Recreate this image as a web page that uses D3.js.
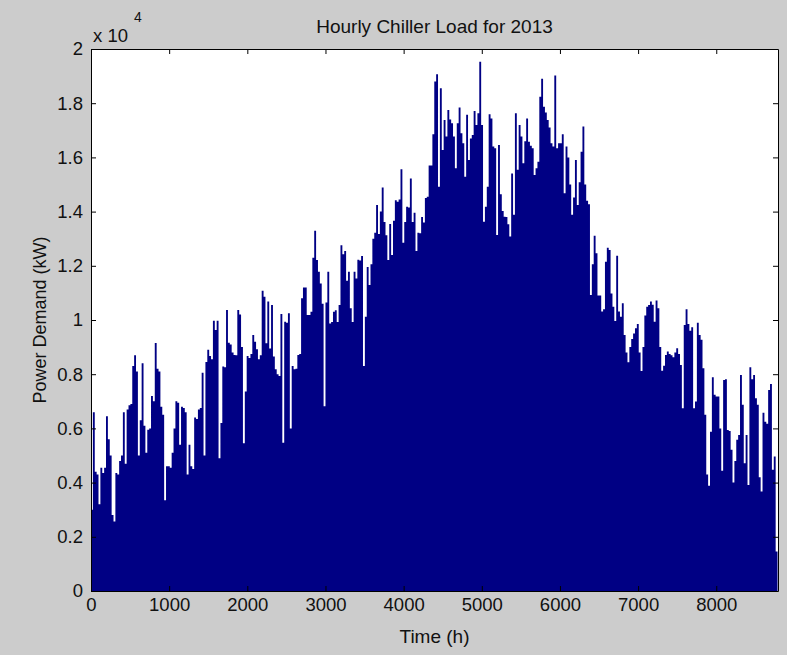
<!DOCTYPE html>
<html>
<script src='https://d3js.org/d3.v7.min.js'></script>
<style>
body {margin: 0; background: #cccccc;}
text {font-family: 'Liberation Sans', Arial, sans-serif;}
</style>
<body>
<script>

// daily peak chiller load (kW), one value per 24 h
var dailyLoad = [
3000,6600,4400,4300,3200,4550,4350,4550,6450,5600,5000,2800,2560,4350,4300,4800,5000,6600,4700,6700,
6850,6900,8300,8700,8100,5000,6300,8400,6100,5100,5950,6000,7200,7000,9150,8200,8100,6800,6500,3350,
4600,4600,4550,5100,6000,7000,6950,5400,6800,6750,6600,4300,5400,4600,4500,6400,6350,6700,6750,8050,
5000,8450,8900,8670,8550,9970,9630,9970,4900,6200,8280,8260,10370,9160,9100,8800,8710,8700,10370,10200,
9000,5450,7360,8670,8600,8750,9450,9200,8920,8550,8700,11080,10860,9140,10680,8950,10550,8650,8180,8000,
7930,10220,5470,9940,9900,10250,6000,8300,8180,8200,8710,8750,10800,11200,11200,10180,10180,10300,12300,13290,
12210,11780,11350,10600,6820,10650,11780,9870,9930,10300,10360,9930,10550,12760,12430,12550,11450,11780,10430,9930,
11780,11530,12220,12200,12360,8300,10120,11960,11290,12060,13000,13220,14240,13170,14000,14890,13620,13130,12210,13540,
12400,13660,14420,14360,14450,15560,12850,13620,14180,14150,15220,13620,13960,12550,13220,13200,13800,13600,14500,14550,
15700,15700,16850,18800,19070,14920,18550,16270,17380,16770,17750,17400,17260,16770,15600,17260,17840,16890,16520,15290,
17570,15900,16700,16830,17710,17200,17630,19530,17200,13630,14180,14920,17590,17440,16400,16340,13140,16460,14640,14020,
13810,13800,13530,13080,15410,13880,17630,15540,17200,16770,15780,16600,17440,16580,16430,16340,15350,15600,15840,18240,
18900,17870,17660,17380,17100,16520,16400,19020,16340,16520,16520,16850,14680,16400,16000,15000,13880,14520,15900,14240,
15080,16210,17140,15000,14400,14270,10920,12060,13110,12460,10900,10900,10310,10400,12150,12670,12580,10980,10490,9960,
12370,10310,10120,10620,9450,8800,8440,9000,9300,9500,9700,9850,8800,8120,9000,10170,10490,10550,10680,10560,
9940,10720,10430,9000,8130,8310,8710,8840,8750,8700,8630,8800,8960,8750,8340,6740,9820,10400,9850,9600,
9730,6740,6990,9900,9450,9270,8220,6500,4300,3880,5880,7890,7240,7180,7180,6000,4440,7790,7810,5940,
5900,5210,4000,4800,5580,5760,7970,6870,4710,5760,3910,8260,7810,7970,7110,6870,4200,3670,6580,6250,
6170,7420,7640,4470,4960,1460
];
var hoursPerBar = 24;
var xTicks = [0,1000,2000,3000,4000,5000,6000,7000,8000];
var yTicks = [0,2000,4000,6000,8000,10000,12000,14000,16000,18000,20000];
var xMax = 8790;
var yMax = 20000;

var svg = d3.select('body')
.append('svg')
.attr('width', 787)
.attr('height', 655);

svg.append('rect')
.attr('width', 787)
.attr('height', 655)
.attr('fill', '#cccccc');

var x = d3.scaleLinear().domain([0, xMax]).range([91, 778]);
var y = d3.scaleLinear().domain([0, yMax]).range([591, 49]);

// white axes background
svg.append('rect')
.attr('x', x(0))
.attr('y', y(yMax))
.attr('width', x(xMax) - x(0))
.attr('height', y(0) - y(yMax))
.attr('fill', 'white');

svg.append('clipPath')
.attr('id', 'plotClip')
.append('rect')
.attr('x', x(0))
.attr('y', y(yMax))
.attr('width', x(xMax) - x(0))
.attr('height', y(0) - y(yMax));

// bars as one stepped shape so neighbouring bars do not leave seams
var steps = dailyLoad.map(function(v, i) { return {h: i * hoursPerBar, v: v}; });
steps.push({h: dailyLoad.length * hoursPerBar, v: dailyLoad[dailyLoad.length - 1]});

var area = d3.area()
.curve(d3.curveStepAfter)
.x(function(d) { return x(d.h); })
.y0(y(0))
.y1(function(d) { return y(d.v); });

svg.append('path')
.datum(steps)
.attr('clip-path', 'url(#plotClip)')
.attr('d', area)
.attr('fill', '#000084');

//axes
var fmt = function(d) { return String(+(d / 10000).toFixed(1)); };

svg.append('g')
.attr('transform', 'translate(' + x(0) + ',0)')
.call(d3.axisLeft(y).tickValues(yTicks).tickFormat(fmt).tickSizeInner(-5).tickSizeOuter(0).tickPadding(8));

svg.append('g')
.attr('transform', 'translate(' + x(xMax) + ',0)')
.call(d3.axisRight(y).tickValues(yTicks).tickFormat('').tickSizeInner(-5).tickSizeOuter(0));

svg.append('g')
.attr('transform', 'translate(0,' + y(yMax) + ')')
.call(d3.axisTop(x).tickValues(xTicks).tickFormat('').tickSizeInner(-5).tickSizeOuter(0));

svg.append('g')
.attr('transform', 'translate(0,' + y(0) + ')')
.call(d3.axisBottom(x).tickValues(xTicks).tickFormat(d3.format('d')).tickSizeInner(-5).tickSizeOuter(0).tickPadding(7));

svg.selectAll('.domain').attr('stroke', 'black');
svg.selectAll('.tick line').attr('stroke', 'black');
svg.selectAll('.tick text')
.style('font-size', '18.5px')
.attr('fill', '#111');

// labels
svg.append('text')
.attr('x', (x(0) + x(xMax)) / 2)
.attr('y', 33)
.style('text-anchor', 'middle')
.style('font-size', '19px')
.attr('fill', '#111')
.text('Hourly Chiller Load for 2013');

svg.append('text')
.attr('x', (x(0) + x(xMax)) / 2)
.attr('y', 643)
.style('text-anchor', 'middle')
.style('font-size', '19px')
.attr('fill', '#111')
.text('Time (h)');

svg.append('text')
.attr('transform', 'translate(46,' + (y(0) + y(yMax)) / 2 + ')rotate(-90)')
.style('text-anchor', 'middle')
.style('font-size', '18px')
.attr('fill', '#111')
.text('Power Demand (kW)');

svg.append('text')
.attr('x', 93)
.attr('y', 42)
.style('font-size', '18.5px')
.attr('fill', '#111')
.text('x 10');

svg.append('text')
.attr('x', 134)
.attr('y', 22)
.style('font-size', '14px')
.attr('fill', '#111')
.text('4');

</script>
</body>
</html>
